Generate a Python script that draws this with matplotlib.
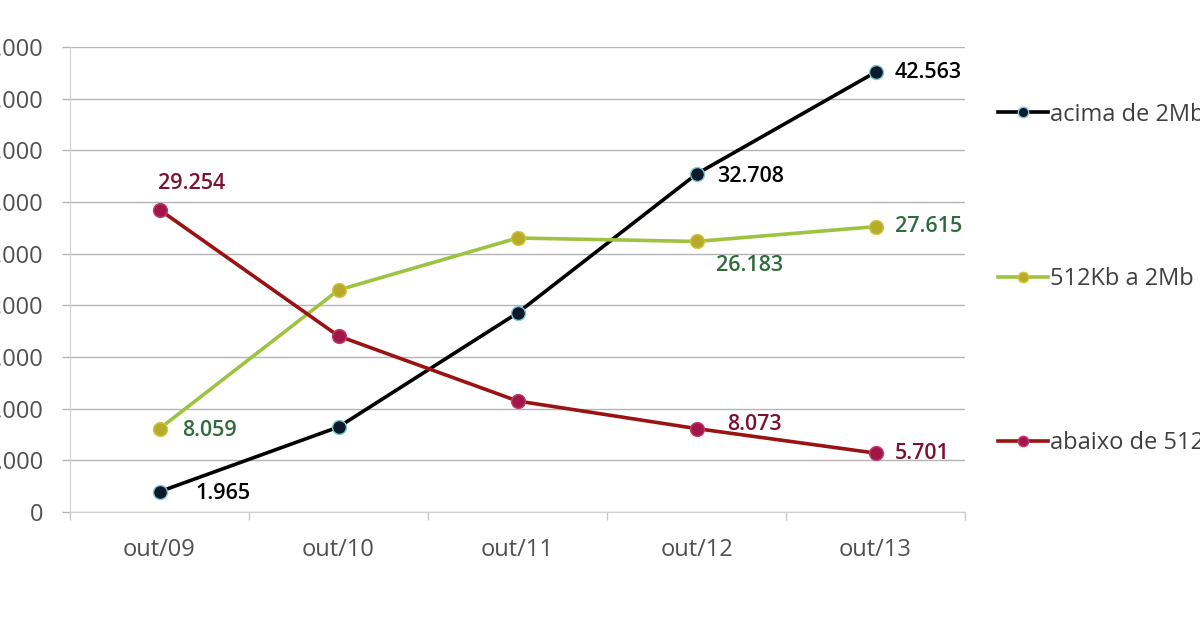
import matplotlib
matplotlib.use("Agg")
import matplotlib.pyplot as plt
from matplotlib.ticker import FuncFormatter, FixedLocator

plt.rcParams['font.family'] = ['Open Sans', 'DejaVu Sans']

# ---------------------------------------------------------------
# Data
# ---------------------------------------------------------------
periods = ['out/09', 'out/10', 'out/11', 'out/12', 'out/13']

acima_2mb = [1965, 8226, 19258, 32708, 42563]
faixa_512_2mb = [8059, 21484, 26516, 26183, 27615]
abaixo_512 = [29254, 17032, 10742, 8073, 5701]

series_names = ['acima de 2Mb', '512Kb a 2Mb', 'abaixo de 512Kb']

# which points get a value label: index -> (dx, dy, ha) in points
labels_acima = {0: (26, -1, 'left'), 3: (15, -2, 'left'), 4: (14, 0, 'left')}
labels_faixa = {0: (16, -1, 'left'), 3: (38, -17, 'center'), 4: (14, 0, 'left')}
labels_abaixo = {0: (23, 19, 'center'), 3: (22, 3, 'left'), 4: (14, 0, 'left')}

# ---------------------------------------------------------------
# Plot
# ---------------------------------------------------------------
fig = plt.figure(figsize=(12, 6.3), dpi=100)
ax = fig.add_axes([70/1200, 1 - 512/630, (965 - 70)/1200, (512 - 47)/630])

x = list(range(len(periods)))

styles = [
    dict(color='#000000', mfc='#0a1a28', mec='#7cc4d6'),
    dict(color='#9dc340', mfc='#b5ac2c', mec='#d9c23c'),
    dict(color='#9b1212', mfc='#a1164b', mec='#c23d6e'),
]
text_cols = ['#000000', '#2f6b3c', '#7a1230']

handles = []
for vals, st, name in zip([acima_2mb, faixa_512_2mb, abaixo_512], styles, series_names):
    h, = ax.plot(x, vals, '-o', color=st['color'], lw=2.6, ms=10,
                 mfc=st['mfc'], mec=st['mec'], mew=1.0, label=name, zorder=3)
    handles.append(h)

for vals, labs, col in zip([acima_2mb, faixa_512_2mb, abaixo_512],
                           [labels_acima, labels_faixa, labels_abaixo], text_cols):
    for i, (dx, dy, ha) in labs.items():
        txt = f'{vals[i]:,}'.replace(',', '.')
        ax.annotate(txt, (x[i], vals[i]), xytext=(dx, dy), textcoords='offset points',
                    ha=ha, va='center', fontsize=15.5, color=col, fontweight='semibold',
                    zorder=4)

ax.set_xlim(-0.5, 4.5)
ax.set_ylim(0, 45000)
ax.set_yticks(range(0, 45001, 5000))
ax.yaxis.set_major_formatter(FuncFormatter(lambda v, p: f'{int(v):,}'.replace(',', '.')))
ax.grid(axis='y', color='#b4b4b4', lw=1.0, zorder=0)

ax.set_xticks(x)
ax.set_xticklabels(periods)
ax.xaxis.set_minor_locator(FixedLocator([-0.5, 0.5, 1.5, 2.5, 3.5, 4.5]))
ax.tick_params(axis='x', which='major', length=0, pad=19, labelsize=17, labelcolor='#505050')
ax.tick_params(axis='x', which='minor', length=6, color='#c8c8c8', width=1)
ax.tick_params(axis='y', length=6, color='#b4b4b4', width=1, pad=13,
               labelsize=17, labelcolor='#505050')

for side in ['top', 'right']:
    ax.spines[side].set_visible(False)
ax.spines['left'].set_color('#d0d0d0')
ax.spines['bottom'].set_color('#d0d0d0')

leg = fig.legend(handles=handles, loc='center left',
                 bbox_to_anchor=(998/1200, 1 - 279/630), frameon=False,
                 fontsize=17, labelcolor='#404040', handlelength=2.1,
                 handletextpad=0.1, labelspacing=5.95, borderpad=0, borderaxespad=0,
                 markerscale=0.75)

fig.savefig('out.png', dpi=100)
